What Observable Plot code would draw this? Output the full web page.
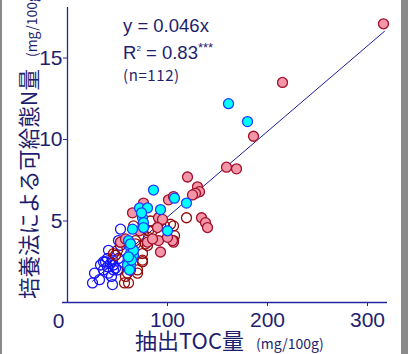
<!DOCTYPE html>
<html><head><meta charset="utf-8">
<script src="https://cdn.jsdelivr.net/npm/d3@7"></script>
<script src="https://cdn.jsdelivr.net/npm/@observablehq/plot@0.6"></script>
<style>
html,body{margin:0;padding:0;background:#8a8a8a;width:408px;height:354px;overflow:hidden}
#chart{position:absolute;left:2px;top:0;width:399px;height:354px;background:#fff;overflow:hidden}
</style></head><body><div id="chart"></div>
<script>
// --- data (抽出TOC量 mg/100g, 培養法による可給態N量 mg/100g) ---
const xTicks = [0, 100, 200, 300];
const yTicks = [5, 10, 15];

const g1X = [25,27,32,36,33,36,40,41,43,45,46,48,38,45,46,50,51,41,53,51,58,53,93,40,44];
const g1Y = [1.2,1.8,1.4,2.0,2.3,2.5,2.7,1.8,2.4,1.1,2.0,2.1,2.5,2.6,2.3,2.0,2.7,3.2,4.5,3.8,3.7,3.5,5.0,2.2,1.6];

const g2X = [57,61,58,60,70,70,75,75,48,46,50,75,68,78,80,68,53,81,81,85,66,83,97,103,106,107,106,119,60,63];
const g2Y = [1.2,1.2,1.6,1.8,1.8,2.0,2.5,2.6,2.9,3.0,3.2,3.0,3.6,3.6,3.5,3.8,3.7,4.0,4.4,4.4,4.7,5.0,4.7,4.8,4.7,4.1,3.8,5.2,2.2,2.0];

const g3X = [316,215,186,159,169,120,130,132,128,125,101,106,76,65,134,138,140,91,95,91,93,106,80,105,90,53,72,100,58,85];
const g3Y = [17.1,13.5,10.2,8.3,8.2,7.7,7.1,6.8,6.7,6.6,6.3,6.5,6.1,5.5,5.2,4.9,4.6,5.2,5.1,3.8,3.1,3.7,3.7,3.8,4.6,3.7,4.4,4.0,3.9,3.9];

const g4X = [161,180,86,107,119,72,80,93,75,76,76,65,100,61,63,63,61,63,65,66,60,62,64,66,74,61,63];
const g4Y = [12.2,11.1,6.9,6.4,6.1,5.8,5.8,5.7,5.2,4.9,4.6,4.5,4.4,3.8,3.4,3.0,2.6,2.3,2.9,2.9,2.3,2.0,2.6,3.2,5.5,2.8,3.6];

const fitX = [25, 317];
const fitY = [1.31, 16.64];

const toRows = (xs, ys) => xs.map((x, i) => ({x, y: ys[i]}));

const axisColor = "#2424a0";
const textColor = "#1e1e6e";
const numFont = "'Liberation Sans Narrow', 'Arial Narrow', sans-serif";

const plot = Plot.plot({
  width: 399,
  height: 354,
  marginLeft: 65,
  marginRight: 14,
  marginTop: 7,
  marginBottom: 52,
  style: {background: "transparent", overflow: "visible"},
  x: {domain: [0, 320]},
  y: {domain: [0, 18.1]},
  marks: [
    Plot.ruleX([0], {stroke: axisColor, strokeWidth: 1.3}),
    Plot.ruleY([0], {x1: -5, x2: 320, stroke: axisColor, strokeWidth: 1.3}),
    Plot.axisX({ticks: xTicks.filter(d => d > 0), tickSize: 4, tickPadding: 6, label: null,
      stroke: axisColor, fill: textColor, fontSize: 21, fontFamily: numFont}),
    Plot.text(xTicks.filter(d => d === 0), {x: d => d, y: 0, text: d => String(d), dx: -9, dy: 19,
      fill: textColor, fontSize: 21, fontFamily: numFont}),
    Plot.axisY({ticks: yTicks, tickSize: 4, tickPadding: 1, label: null,
      stroke: axisColor, fill: textColor, fontSize: 21, fontFamily: numFont}),
    Plot.line(toRows(fitX, fitY), {x: "x", y: "y", stroke: "#1c1c9c", strokeWidth: 1}),
    Plot.dot(toRows(g1X, g1Y), {x: "x", y: "y", r: 5, stroke: "#1414ff", strokeWidth: 1.3, fill: "none"}),
    Plot.dot(toRows(g2X, g2Y), {x: "x", y: "y", r: 5, stroke: "#960a0a", strokeWidth: 1.3, fill: "none"}),
    Plot.dot(toRows(g3X, g3Y), {x: "x", y: "y", r: 5, stroke: "#a0102a", strokeWidth: 1.3, fill: "#f595a8"}),
    Plot.dot(toRows(g4X, g4Y), {x: "x", y: "y", r: 5, stroke: "#1e3cff", strokeWidth: 1.3, fill: "#00ffff"})
  ]
});
document.getElementById("chart").appendChild(plot);

const svg = d3.select(plot);
const sans = "'Liberation Sans', Arial, sans-serif";
const cjk = "'Noto Sans CJK JP', sans-serif";

// annotation
const ann = svg.append("g").attr("fill", textColor).attr("font-family", sans).attr("text-anchor", "start");
ann.append("text").attr("x", 121).attr("y", 32).attr("font-size", 18.5).text("y = 0.046x");
const r2 = ann.append("text").attr("x", 121).attr("y", 59).attr("font-size", 18.5);
r2.append("tspan").text("R");
r2.append("tspan").attr("font-size", 8).attr("dy", -8).text("2");
r2.append("tspan").attr("dy", 8).text(" = 0.83");
r2.append("tspan").attr("font-size", 13).attr("dy", -7).text("***");
ann.append("text").attr("x", 121).attr("y", 81).attr("font-size", 15).attr("font-family", cjk)
  .attr("letter-spacing", 0.6).text("(n=112)");

// x axis label
const xl = svg.append("text").attr("x", 133).attr("y", 349).attr("fill", textColor)
  .attr("font-family", cjk).attr("text-anchor", "start");
xl.append("tspan").attr("font-size", 22).text("抽出TOC量");
xl.append("tspan").attr("font-size", 14).attr("dx", 12).text("(mg/100g)");

// y axis label
const yl = svg.append("text").attr("transform", "translate(35,299) rotate(-90)").attr("fill", textColor)
  .attr("font-family", cjk).attr("text-anchor", "start");
yl.append("tspan").attr("font-size", 21.5).text("培養法による可給態N量");
yl.append("tspan").attr("font-size", 14).attr("dx", 12).text("(mg/100g)");
</script></body></html>
